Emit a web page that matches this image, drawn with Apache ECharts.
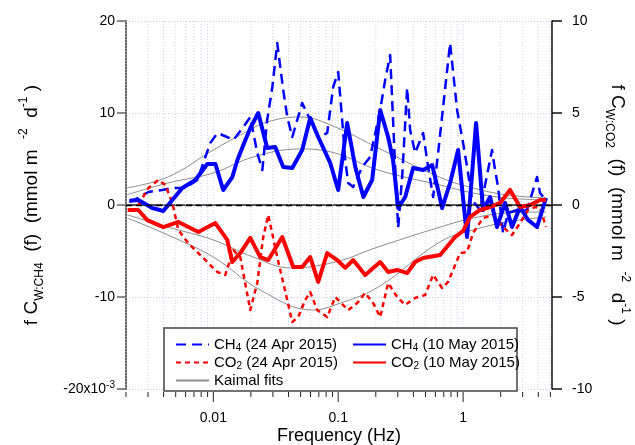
<!DOCTYPE html>
<html><head><meta charset="utf-8">
<script src="https://cdn.jsdelivr.net/npm/echarts@6/dist/echarts.min.js"></script>
<style>html,body{margin:0;padding:0;background:#fff}#c{width:635px;height:445px}</style>
</head><body><div id="c"></div>
<script>
// ---- data: [frequency (Hz), value] ----
// CH4 in 1e-3 mmol m-2 d-1 (left axis), CO2 in mmol m-2 d-1 (right axis)
const ch4Apr = [[0.00213,0.33],[0.00251,0.76],[0.00302,1.41],[0.00389,1.63],[0.00479,1.85],[0.00597,1.85],[0.00745,2.72],[0.00946,6.74],[0.0108,7.83],[0.0129,7.39],[0.0145,7.07],[0.0174,8.48],[0.0198,9.57],[0.0225,5.65],[0.0247,3.80],[0.0270,9.24],[0.0297,12.83],[0.0325,17.6],[0.0363,12.5],[0.0391,9.57],[0.0429,7.39],[0.047,9.24],[0.0515,11.09],[0.0597,9.24],[0.0692,7.39],[0.0817,7.83],[0.0912,12.83],[0.1,14.46],[0.1076,9.24],[0.1138,4.89],[0.1202,2.39],[0.1318,1.96],[0.1556,4.13],[0.1803,5.22],[0.2168,10.33],[0.2377,13.59],[0.2606,16.3],[0.2858,4.13],[0.302,-2.5],[0.3251,3.04],[0.3565,12.72],[0.3767,8.15],[0.413,5.65],[0.4786,7.83],[0.5248,4.13],[0.5754,0.87],[0.631,5.65],[0.6918,10.65],[0.787,17.6],[0.8954,10.33],[1.0,6.74],[1.096,3.48],[1.18,0.54],[1.368,-0.54],[1.706,5.98],[1.803,3.8],[1.905,1.96],[2.089,-3.04],[2.291,-0.87],[2.704,-0.54],[3.251,-0.54],[3.908,3.04],[4.13,1.3],[4.613,0.54]];
const ch4May = [[0.00213,0.47],[0.00251,0.54],[0.00325,-0.33],[0.00398,-0.65],[0.0047,0.54],[0.00565,1.85],[0.00718,2.72],[0.00895,4.46],[0.0104,4.46],[0.0120,1.63],[0.0142,3.04],[0.0156,4.89],[0.0174,6.52],[0.0198,8.37],[0.0229,10.0],[0.0270,6.2],[0.0313,6.3],[0.0363,4.13],[0.0429,4.02],[0.0515,5.98],[0.0597,9.46],[0.0692,7.39],[0.0863,4.57],[0.1,1.63],[0.118,8.91],[0.137,4.13],[0.159,0.87],[0.187,2.72],[0.217,10.33],[0.251,7.39],[0.275,4.89],[0.302,-0.33],[0.344,0.87],[0.398,4.02],[0.479,3.80],[0.565,4.35],[0.631,1.63],[0.679,-0.33],[0.787,2.39],[0.912,5.98],[1.076,-3.48],[1.271,8.91],[1.445,-0.54],[1.644,0.87],[1.871,-2.39],[2.168,0.22],[2.466,-2.39],[2.858,-0.22],[3.311,-1.63],[3.908,-2.39],[4.613,0.76]];
const co2Apr = [[0.00251,0],[0.00302,0.92],[0.00363,1.36],[0.00413,1.09],[0.0047,0.11],[0.00525,-1.36],[0.0063,-2.07],[0.00787,-2.72],[0.01076,-3.64],[0.01247,-3.8],[0.01445,-2.45],[0.01644,-2.83],[0.01977,-5.71],[0.02249,-4.24],[0.02512,-1.74],[0.02754,-0.54],[0.03251,-2.83],[0.03908,-5.16],[0.04285,-6.36],[0.04786,-6.09],[0.05445,-5.16],[0.0597,-4.73],[0.06792,-5.71],[0.08166,-6.09],[0.09462,-5.0],[0.1202,-5.71],[0.1419,-5.33],[0.1644,-4.78],[0.1905,-5.33],[0.2168,-6.09],[0.2512,-4.24],[0.2965,-5.0],[0.3436,-5.43],[0.413,-5.05],[0.4966,-4.89],[0.5754,-3.8],[0.6792,-4.51],[0.7586,-4.18],[0.9462,-2.61],[1.076,-2.55],[1.202,-1.52],[1.445,-0.71],[1.738,-0.54],[2.089,-1.2],[2.466,-1.63],[2.858,-0.98],[3.311,-0.27],[3.767,-0.11],[4.13,-0.16],[4.613,-1.2]];
const co2May = [[0.00206,-0.27],[0.00251,-0.27],[0.00296,-0.82],[0.00398,-1.2],[0.00525,-0.92],[0.00759,-1.47],[0.01038,-0.98],[0.01294,-1.9],[0.01419,-3.1],[0.01644,-2.61],[0.01977,-1.79],[0.02377,-2.83],[0.02754,-2.99],[0.03565,-1.74],[0.04365,-3.37],[0.05152,-3.37],[0.0597,-2.83],[0.06918,-4.18],[0.08166,-2.61],[0.09817,-2.99],[0.1138,-3.42],[0.1318,-2.99],[0.1644,-3.8],[0.2168,-3.1],[0.2512,-3.64],[0.2965,-3.53],[0.3565,-3.7],[0.413,-3.1],[0.4786,-2.88],[0.6546,-2.72],[0.863,-1.74],[1.0,-1.41],[1.138,-0.65],[1.368,-0.27],[1.644,-0.11],[1.977,0.11],[2.377,0.82],[2.858,-0.11],[3.436,0],[4.13,0.27],[4.613,0.27]];
const kaimalCh4Apr = [[0.00201,1.85],[0.00433,3.04],[0.01,5.98],[0.01644,7.61],[0.02704,9.02],[0.04966,9.57],[0.09462,8.48],[0.2089,6.2],[0.6546,3.0],[1.202,1.85],[2.249,1.09],[4.613,0.76]];
const kaimalCh4May = [[0.00201,1.09],[0.00433,2.39],[0.01,3.48],[0.0209,5.22],[0.04966,6.09],[0.09462,5.65],[0.2089,3.8],[0.6546,2.17],[1.202,1.3],[2.249,0.76],[4.613,0.54]];
const kaimalCo2May = [[0.00206,-0.54],[0.00433,-1.2],[0.01,-1.9],[0.0209,-2.83],[0.0413,-3.42],[0.09462,-3.1],[0.2089,-2.28],[0.6546,-1.2],[1.202,-0.71],[2.249,-0.43],[4.613,-0.38]];
const kaimalCo2Apr = [[0.00206,-0.71],[0.00433,-1.63],[0.01,-2.83],[0.02377,-4.62],[0.0631,-5.71],[0.09462,-5.43],[0.2089,-4.46],[0.6546,-2.0],[1.202,-1.36],[2.249,-0.92],[4.613,-0.65]];
const xTicks = [0.002,0.003,0.004,0.005,0.006,0.007,0.008,0.009,0.01,0.02,0.03,0.04,0.05,0.06,0.07,0.08,0.09,0.1,0.2,0.3,0.4,0.5,0.6,0.7,0.8,0.9,1,2,3,4,5];
const xTickLabels = {'-2':'0.01','-1':'0.1','0':'1'};
const leftTicks = [-20,-10,0,10,20];
const rightTicks = [-10,-5,0,5,10];

const FONT = '"Liberation Sans", Arial, sans-serif';
const chart = echarts.init(document.getElementById('c'));
const BLUE = '#0000ff', RED = '#ff0000', GRAY = '#8c8c8c';
const isPow10 = v => { const l = Math.log10(v); return Math.abs(l - Math.round(l)) < 1e-6; };

const legendRich = {
  n: {fontSize: 15, fontFamily: FONT, color: '#000', lineHeight: 18},
  s: {fontSize: 10, fontFamily: FONT, color: '#000', lineHeight: 8, verticalAlign: 'bottom'}
};
const legendFmt = name => name.replace(/^(CH|CO)(\d)(.*)$/, '{n|$1}{s|$2}{n|$3}').replace(/^Kaimal fits$/, '{n|Kaimal fits}');
const titleRich = {
  a: {fontSize: 19, fontFamily: FONT, color: '#000', lineHeight: 28},
  b: {fontSize: 12, fontFamily: FONT, color: '#000', lineHeight: 12, verticalAlign: 'bottom'},
  c: {fontSize: 12, fontFamily: FONT, color: '#000', lineHeight: 14, verticalAlign: 'top'}
};

function lineSeries(name, data, color, width, dash, yIdx, extra) {
  return Object.assign({
    name, type: 'line', data, yAxisIndex: yIdx, symbol: 'none', showSymbol: false,
    lineStyle: {color, width, type: dash || 'solid', cap: 'butt', join: 'round'},
    itemStyle: {color}, silent: true, animation: false, z: 3
  }, extra || {});
}

const legendCommon = {
  orient: 'vertical', itemWidth: 33, itemHeight: 14, itemGap: 1.5,
  formatter: legendFmt, textStyle: {rich: legendRich}, selectedMode: false, z: 20,
  itemStyle: {opacity: 0}
};

chart.setOption({
  animation: false,
  backgroundColor: '#fff',
  grid: {left: 126, right: 83, top: 21, bottom: 56, containLabel: false, outerBoundsMode: 'none'},
  xAxis: {
    type: 'log', logBase: 10, min: 0.002, max: 5.15, offset: 3,
    name: 'Frequency (Hz)', nameLocation: 'middle', nameGap: 35, nameMoveOverlap: false,
    nameTextStyle: {fontSize: 18, fontFamily: FONT, color: '#000'},
    axisLine: {show: true, lineStyle: {color: '#222', width: 1.5}},
    axisTick: {show: false}, splitLine: {show: false}, minorTick: {show: false},
    axisLabel: {
      margin: 19, fontSize: 14, fontFamily: FONT, color: '#000',
      showMinLabel: false, showMaxLabel: false,
      formatter: v => isPow10(v) ? (xTickLabels[String(Math.round(Math.log10(v)))] || '') : ''
    }
  },
  yAxis: [{
    type: 'value', min: -20, max: 20, interval: 10, position: 'left',
    name: '{a|f C}{b|W:CH4}{a|  (f)  (mmol m  }{c|-2}{a|  d}{c|-1}{a| )}',
    nameLocation: 'middle', nameRotate: 90, nameGap: 80,
    nameTextStyle: {rich: titleRich},
    axisLine: {show: true, lineStyle: {color: '#666', width: 2}},
    axisTick: {show: true, length: 9, lineStyle: {color: '#666', width: 1.5}},
    splitLine: {show: true, lineStyle: {color: '#c8c8f4', width: 1, type: [1, 2]}},
    axisLabel: {
      margin: 11, fontSize: 14, fontFamily: FONT, color: '#000',
      formatter: v => v === leftTicks[0] ? '{n|' + v + 'x10}{p|-3}' : '{n|' + v + '}',
      rich: {n: {fontSize: 14, fontFamily: FONT, color: '#000', lineHeight: 18},
             p: {fontSize: 10, fontFamily: FONT, color: '#000', lineHeight: 10, verticalAlign: 'top'}}
    }
  }, {
    type: 'value', min: -10, max: 10, interval: 5, position: 'right',
    name: '{a|f C}{b|W:CO2}{a|  (f)  (mmol m  }{c|-2}{a|  d}{c|-1}{a| )}',
    nameLocation: 'middle', nameRotate: -90, nameGap: 47,
    nameTextStyle: {rich: titleRich},
    axisLine: {show: true, lineStyle: {color: '#111', width: 1.5}},
    axisTick: {show: true, length: 10, lineStyle: {color: '#111', width: 1.5}},
    splitLine: {show: false},
    axisLabel: {margin: 20, fontSize: 14, fontFamily: FONT, color: '#000'}
  }],
  legend: [
    Object.assign({left: 170, top: 332, data: ['CH4 (24 Apr 2015)', 'CO2 (24 Apr 2015)', 'Kaimal fits']}, legendCommon),
    Object.assign({left: 347, top: 332, data: ['CH4 (10 May 2015)', 'CO2 (10 May 2015)']}, legendCommon)
  ],
  graphic: [{
    type: 'rect', z: 15, silent: true,
    shape: {x: 164, y: 328, width: 353, height: 63},
    style: {fill: '#fff', stroke: '#444', lineWidth: 1.5}
  }],
  series: [
    {
      type: 'custom', name: 'grid', data: xTicks.map(f => [f, 0]), encode: {x: 0, y: 1},
      clip: false, silent: true, z: 1,
      renderItem: (params, api) => {
        const f = api.value(0);
        const top = api.coord([f, 20]);
        const bot = api.coord([f, -20]);
        const major = isPow10(f);
        return {type: 'group', children: [
          {type: 'line', shape: {x1: top[0], y1: top[1], x2: bot[0], y2: bot[1]},
           style: {stroke: '#cdcdf6', lineWidth: 1, lineDash: [1, 2]}},
          {type: 'line', shape: {x1: bot[0], y1: bot[1] + 3, x2: bot[0], y2: bot[1] + 3 + (major ? 10 : 5)},
           style: {stroke: '#222', lineWidth: 1}}
        ]};
      }
    },
    lineSeries('Kaimal fits', kaimalCh4Apr, GRAY, 1, 'solid', 0, {smooth: 0.4, z: 2}),
    lineSeries('Kaimal fits', kaimalCh4May, GRAY, 1, 'solid', 0, {smooth: 0.4, z: 2}),
    lineSeries('Kaimal fits', kaimalCo2May, GRAY, 1, 'solid', 1, {smooth: 0.4, z: 2}),
    lineSeries('Kaimal fits', kaimalCo2Apr, GRAY, 1, 'solid', 1, {smooth: 0.4, z: 2}),
    lineSeries('CH4 (24 Apr 2015)', ch4Apr, BLUE, 2.5, [10, 6], 0),
    lineSeries('CO2 (24 Apr 2015)', co2Apr, RED, 2.5, [5, 4], 1),
    lineSeries('CH4 (10 May 2015)', ch4May, BLUE, 4, 'solid', 0, {
      markLine: {silent: true, symbol: ['none', 'none'], label: {show: false},
        lineStyle: {color: '#000', width: 1.3, type: [6, 4]}, data: [{yAxis: 0}], animation: false}
    }),
    lineSeries('CO2 (10 May 2015)', co2May, RED, 4, 'solid', 1)
  ]
});
</script></body></html>
